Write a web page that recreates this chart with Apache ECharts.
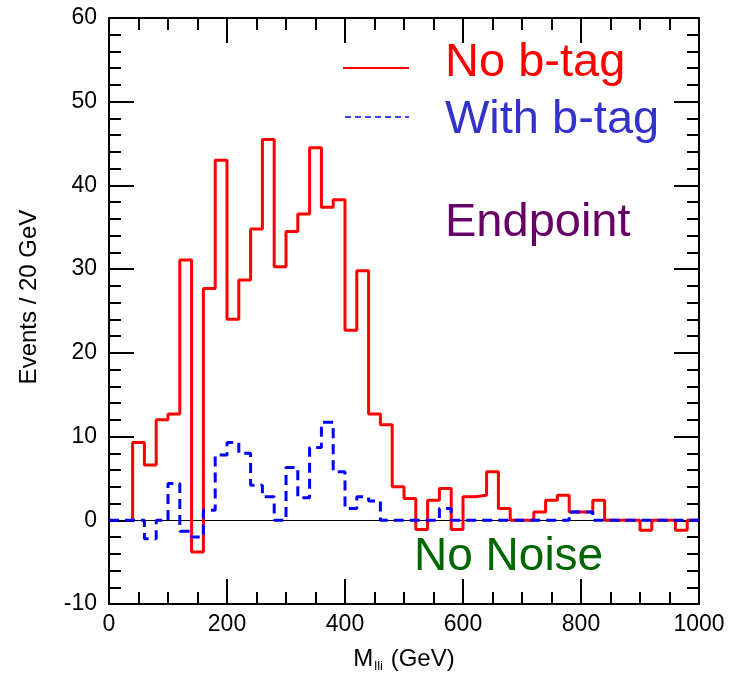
<!DOCTYPE html>
<html>
<head>
<meta charset="utf-8">
<script src="https://cdn.jsdelivr.net/npm/echarts@6/dist/echarts.min.js"></script>
<style>
html,body{margin:0;padding:0;background:#fff;}
#chart{width:729px;height:678px;}
</style>
</head>
<body>
<div id="chart"></div>
<script>
// Lower edges of the 20 GeV bins
const binLow = [0,20,40,60,80,100,120,140,160,180,200,220,240,260,280,300,320,340,360,380,
  400,420,440,460,480,500,520,540,560,580,600,620,640,660,680,700,720,740,760,780,
  800,820,840,860,880,900,920,940,960,980];
const binHighEnd = 1000;
// "No b-tag" (red, solid); null = not drawn
const redCounts = [null,null,9.3,6.6,12.0,12.7,31.1,-3.8,27.7,43.0,24.0,28.7,34.8,45.5,30.3,34.5,36.6,44.5,37.4,38.3,
  22.7,29.8,12.7,11.4,4.0,2.6,-1.1,2.4,3.8,-1.1,2.8,3.0,5.8,1.4,0,0,1.0,2.4,3.0,1.0,
  1.0,2.4,0,0,0,-1.2,0,0,-1.2,0];
// "With b-tag" (blue, dashed)
const blueCounts = [0,0,0,-2.2,0,4.4,-1.3,-2.0,1.2,7.8,9.3,8.0,4.2,2.8,0,6.3,2.7,8.7,11.7,5.8,
  1.4,2.8,2.3,0,0,0,0,0,1.4,0,0,0,0,0,0,0,0,0,0,1.0,
  1.0,0,0,0,0,0,0,0,0,0];
const xTicks = {min:0, max:1000, interval:200};
const yTicks = {min:-10, max:60, interval:10};
const legendNames = ['No b-tag','With b-tag'];
const noteTexts = ['Endpoint','No Noise'];

function stepData(counts){
  const out = [];
  let started = false;
  for (let i = 0; i < counts.length; i++){
    if (counts[i] === null) continue;
    if (!started){ out.push([binLow[i], 0]); started = true; }
    out.push([binLow[i], counts[i]]);
  }
  out.push([binHighEnd, counts[counts.length-1]]);
  return out;
}

const FONT = "'Liberation Sans', Arial, Helvetica, sans-serif";
const chart = echarts.init(document.getElementById('chart'), null, {renderer:'canvas'});
const plainNum = v => String(v);

function axisCommon(showLabels){
  return {
    axisLine:{show:true, onZero:false, lineStyle:{color:'#000', width:2}},
    axisTick:{show:true, inside:true, length:25, lineStyle:{color:'#000', width:2}},
    minorTick:{show:true, length:12, lineStyle:{color:'#000', width:2}},
    splitLine:{show:false},
    minorSplitLine:{show:false},
    axisLabel:{show:showLabels, color:'#000', fontSize:23, fontFamily:FONT, formatter:plainNum}
  };
}

const option = {
  animation:false,
  backgroundColor:'#fff',
  grid:{left:109, top:18, right:30, bottom:73, containLabel:false},
  xAxis:[
    Object.assign({type:'value', position:'bottom', min:xTicks.min, max:xTicks.max, interval:xTicks.interval,
      name:'{a|M}{b|lli}{a| (GeV)}', nameLocation:'middle', nameGap:42,
      nameTextStyle:{rich:{
        a:{fontSize:24, fontFamily:FONT, color:'#000'},
        b:{fontSize:13, fontFamily:FONT, color:'#000', padding:[14,1,0,1]}
      }}
    }, axisCommon(true), {minorTick:{show:true, splitNumber:4, length:12, lineStyle:{color:'#000', width:2}},
      axisLabel:{show:true, color:'#000', fontSize:23, fontFamily:FONT, margin:9, formatter:plainNum}}),
    Object.assign({type:'value', position:'top', min:xTicks.min, max:xTicks.max, interval:xTicks.interval},
      axisCommon(false), {minorTick:{show:true, splitNumber:4, length:12, lineStyle:{color:'#000', width:2}}})
  ],
  yAxis:[
    Object.assign({type:'value', position:'left', min:yTicks.min, max:yTicks.max, interval:yTicks.interval,
      name:'Events / 20 GeV', nameLocation:'middle', nameGap:68, nameRotate:90,
      nameTextStyle:{fontSize:24, fontFamily:FONT, color:'#000', padding:[0,0,0,28]}
    }, axisCommon(true), {minorTick:{show:true, splitNumber:5, length:12, lineStyle:{color:'#000', width:2}},
      axisLabel:{show:true, color:'#000', fontSize:23, fontFamily:FONT, margin:12, formatter:plainNum}}),
    Object.assign({type:'value', position:'right', min:yTicks.min, max:yTicks.max, interval:yTicks.interval},
      axisCommon(false), {minorTick:{show:true, splitNumber:5, length:12, lineStyle:{color:'#000', width:2}}})
  ],
  series:[
    {
      name:legendNames[0], type:'line', step:'end', xAxisIndex:0, yAxisIndex:0,
      data:stepData(redCounts), symbol:'none', z:3,
      lineStyle:{color:'#ff0000', width:3},
      markLine:{silent:true, symbol:'none', label:{show:false}, z:2,
        lineStyle:{color:'#000', width:1, type:'solid'}, data:[{yAxis:0}]}
    },
    {
      name:legendNames[1], type:'line', step:'end', xAxisIndex:0, yAxisIndex:0,
      data:stepData(blueCounts), symbol:'none', z:4,
      lineStyle:{color:'#0000ff', width:3, type:[10,6]}
    }
  ],
  graphic:[
    {type:'line', shape:{x1:343, y1:68, x2:409, y2:68}, style:{stroke:'#ff0000', lineWidth:2}},
    {type:'line', shape:{x1:345, y1:117, x2:409, y2:117}, style:{stroke:'#0000ff', lineWidth:1.5, lineDash:[6,4]}},
    {type:'text', left:445, top:40, style:{text:legendNames[0], font:'47px '+FONT, fill:'#ff0000'}},
    {type:'text', left:445, top:97, style:{text:legendNames[1], font:'47px '+FONT, fill:'#3333cc'}},
    {type:'text', left:445, top:200, style:{text:noteTexts[0], font:'47px '+FONT, fill:'#660066'}},
    {type:'text', left:414, top:534, style:{text:noteTexts[1], font:'46px '+FONT, fill:'#006600'}}
  ]
};
chart.setOption(option);
</script>
</body>
</html>
